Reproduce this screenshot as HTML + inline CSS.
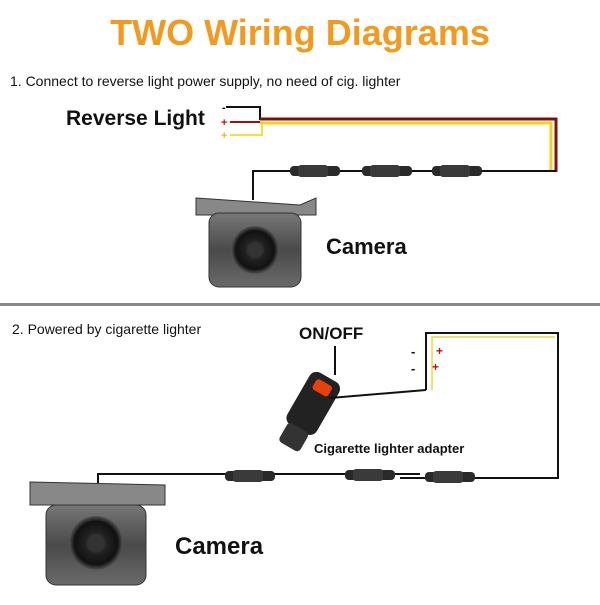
<!DOCTYPE html>
<html><head><style>
body{margin:0;width:600px;height:600px;background:#fff;overflow:hidden;font-family:"Liberation Sans",sans-serif}
</style></head><body>
<svg width="600" height="600" viewBox="0 0 600 600" xmlns="http://www.w3.org/2000/svg">
<defs>
<radialGradient id="lens" cx="50%" cy="50%" r="50%"><stop offset="0" stop-color="#666"/><stop offset="0.4" stop-color="#222"/><stop offset="0.8" stop-color="#111"/><stop offset="1" stop-color="#555"/></radialGradient>
<linearGradient id="body" x1="0" y1="0" x2="0" y2="1"><stop offset="0" stop-color="#777"/><stop offset="0.5" stop-color="#4a4a4a"/><stop offset="1" stop-color="#6a6a6a"/></linearGradient>
<g id="conn"><rect x="0" y="-5" width="50" height="10" rx="4" fill="#2a2a2a"/><rect x="8" y="-6" width="30" height="12" rx="3" fill="#3a3a3a"/></g>
</defs>
<text x="300" y="45" text-anchor="middle" font-size="36" font-weight="bold" fill="#f39a1e">TWO Wiring Diagrams</text>
<text x="10" y="86" font-size="14" fill="#111">1.  Connect to reverse light power supply,  no need of cig. lighter</text>
<text x="66" y="125" font-size="21" font-weight="bold" fill="#111">Reverse Light</text>
<g fill="none" stroke-width="2">
<path d="M226 107 H260 V120" stroke="#111"/>
<path d="M230 122 H260" stroke="#a01010"/>
<path d="M230 135 H262 V123" stroke="#f0e040"/>
<path d="M260 119 H556 V172" stroke="#7a1010" stroke-width="3"/>
<path d="M260 123 H551 V172" stroke="#f5d020" stroke-width="3"/>
<path d="M556 171 H253 V200" stroke="#111"/>
</g>
<text x="222" y="111" font-size="11" font-weight="bold" fill="#111">-</text>
<text x="221" y="126" font-size="11" font-weight="bold" fill="#c01010">+</text>
<text x="221" y="139" font-size="11" font-weight="bold" fill="#e0c020">+</text>
<use href="#conn" x="290" y="171"/><use href="#conn" x="362" y="171"/><use href="#conn" x="432" y="171"/>
<path d="M196 198 L300 205 L316 198 L316 215 L196 215 Z" fill="#888" stroke="#333"/>
<rect x="209" y="213" width="92" height="74" rx="10" fill="url(#body)" stroke="#333"/>
<circle cx="255" cy="250" r="24" fill="url(#lens)"/>
<circle cx="255" cy="250" r="7" fill="#333"/>
<text x="326" y="254" font-size="22" font-weight="bold" fill="#111">Camera</text>
<rect x="0" y="303" width="600" height="3" fill="#888"/>
<text x="12" y="334" font-size="14" fill="#111">2.  Powered by cigarette lighter</text>
<text x="299" y="339" font-size="17" font-weight="bold" fill="#111">ON/OFF</text>
<line x1="335" y1="346" x2="335" y2="375" stroke="#111" stroke-width="2"/>
<g transform="rotate(30 310 405)">
<rect x="295" y="372" width="34" height="60" rx="8" fill="#222"/>
<rect x="303" y="378" width="18" height="12" rx="3" fill="#e8400a"/>
<rect x="300" y="430" width="24" height="22" rx="4" fill="#333"/>
</g>
<g fill="none" stroke-width="2">
<path d="M330 398 L426 390" stroke="#111"/>
<path d="M426 390 V333 H558 V478 H400" stroke="#111"/>
<path d="M432 390 V337 H555" stroke="#f0e070"/>
<path d="M98 500 V474 H420" stroke="#111"/>
</g>
<text x="411" y="356" font-size="13" font-weight="bold" fill="#111">-</text>
<text x="436" y="355" font-size="12" font-weight="bold" fill="#c01010">+</text>
<text x="411" y="373" font-size="13" font-weight="bold" fill="#111">-</text>
<text x="432" y="371" font-size="12" font-weight="bold" fill="#c01010">+</text>
<text x="314" y="453" font-size="13" font-weight="bold" fill="#111">Cigarette lighter adapter</text>
<use href="#conn" x="225" y="476"/><use href="#conn" x="345" y="475"/><use href="#conn" x="425" y="477"/>
<path d="M30 482 L165 485 L165 505 L30 505 Z" fill="#888" stroke="#333"/>
<rect x="46" y="505" width="100" height="80" rx="10" fill="url(#body)" stroke="#333"/>
<circle cx="96" cy="543" r="27" fill="url(#lens)"/>
<circle cx="96" cy="543" r="8" fill="#333"/>
<text x="175" y="554" font-size="24" font-weight="bold" fill="#111">Camera</text>
</svg>
</body></html>
